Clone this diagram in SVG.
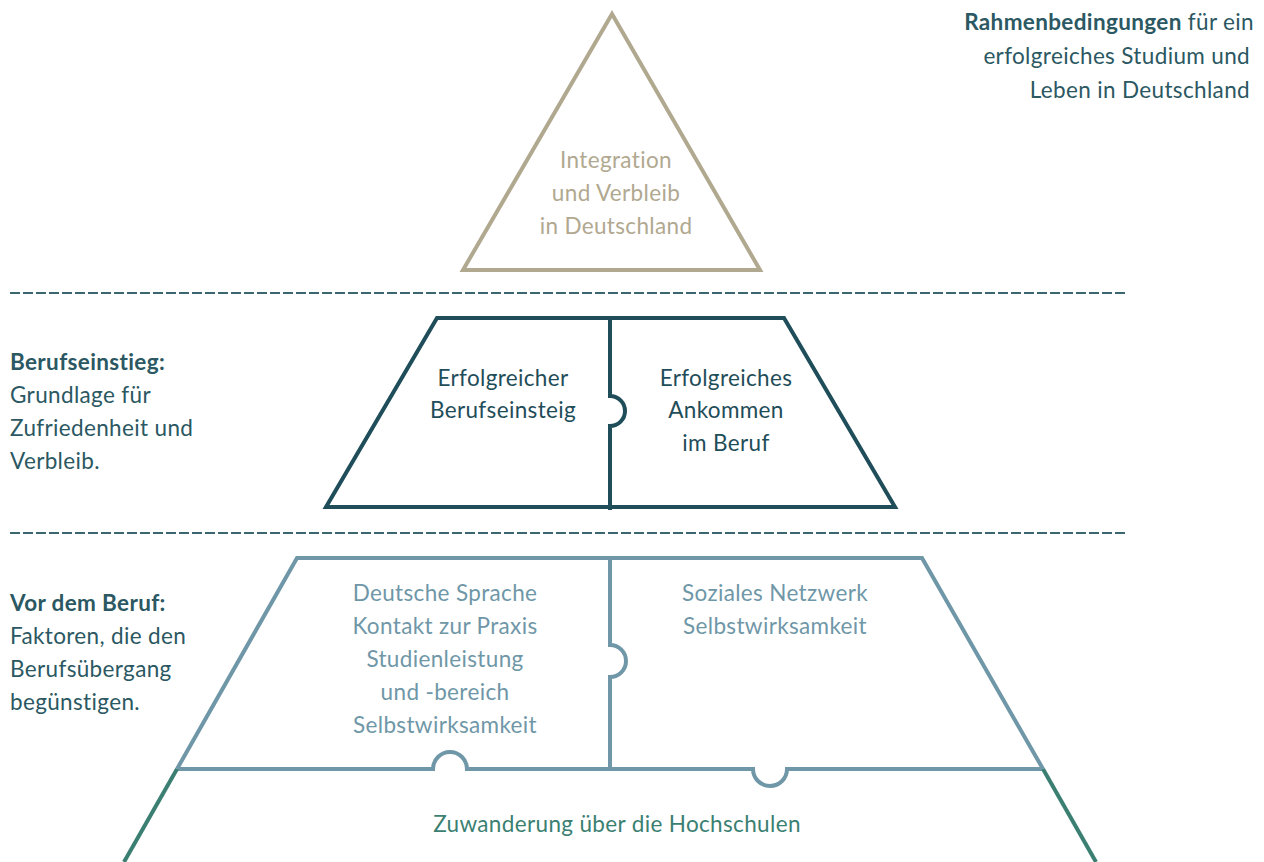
<svg xmlns="http://www.w3.org/2000/svg" width="1264" height="862" viewBox="0 0 1264 862">
  <style>
    text { font-family: Lato, "Open Sans", "Liberation Sans", sans-serif; font-size: 22.5px; letter-spacing: 0.35px; }
    .c { text-anchor: middle; }
    .r { text-anchor: end; }
    .tan { fill: #b1a890; }
    .dark { fill: #1f4d59; }
    .side { fill: #2b5862; }
    .light { fill: #6f97a7; }
    .green { fill: #3b7f72; }
    .b { font-weight: 700; }
    .sep { stroke: #3b6670; stroke-width: 2; stroke-dasharray: 10 3; fill: none; }
  </style>
  <rect width="1264" height="862" fill="#ffffff"/>

  <!-- section separators -->
  <g id="separators">
    <line class="sep" x1="10" y1="293" x2="1125" y2="293"/>
    <line class="sep" x1="10" y1="533" x2="1125" y2="533"/>
  </g>

  <!-- top: integration triangle -->
  <g id="integration">
    <polygon points="612,14 463,270 760,270" fill="none" stroke="#b1a890" stroke-width="4" stroke-linejoin="miter"/>
    <text class="c tan" x="616" y="168">Integration</text>
    <text class="c tan" x="616" y="201">und Verbleib</text>
    <text class="c tan" x="616" y="234">in Deutschland</text>
  </g>

  <!-- middle: career entry -->
  <g id="berufseinstieg">
    <polygon points="437,318 784,318 895,507 326,507" fill="none" stroke="#1f4d59" stroke-width="4"/>
    <path d="M610,318 V396 A15,15 0 0 1 610,426 V510" fill="none" stroke="#1f4d59" stroke-width="4"/>
    <text class="c dark" x="503" y="386">Erfolgreicher</text>
    <text class="c dark" x="503" y="418">Berufseinsteig</text>
    <text class="c dark" x="726" y="386">Erfolgreiches</text>
    <text class="c dark" x="726" y="418">Ankommen</text>
    <text class="c dark" x="726" y="451">im Beruf</text>
  </g>

  <!-- lower: factors before the job -->
  <g id="vor-dem-beruf">
    <path d="M177,769 L297,558 H922 L1043,769" fill="none" stroke="#6f97a7" stroke-width="4" stroke-linejoin="miter"/>
    <path d="M610,558 V645 A16,16 0 0 1 610,677 V769" fill="none" stroke="#6f97a7" stroke-width="4"/>
    <path d="M177,769 H433 A17,17 0 0 1 467,769 H753 A17,17 0 0 0 787,769 H1043" fill="none" stroke="#6f97a7" stroke-width="4"/>
    <text class="c light" x="445" y="601">Deutsche Sprache</text>
    <text class="c light" x="445" y="634">Kontakt zur Praxis</text>
    <text class="c light" x="445" y="667">Studienleistung</text>
    <text class="c light" x="445" y="700">und -bereich</text>
    <text class="c light" x="445" y="733">Selbstwirksamkeit</text>
    <text class="c light" x="775" y="601">Soziales Netzwerk</text>
    <text class="c light" x="775" y="634">Selbstwirksamkeit</text>
  </g>

  <!-- base: migration via universities -->
  <g id="zuwanderung">
    <line x1="177" y1="769" x2="124" y2="862" stroke="#3b7f72" stroke-width="4"/>
    <line x1="1043" y1="769" x2="1096" y2="862" stroke="#3b7f72" stroke-width="4"/>
    <text class="c green" x="617" y="832">Zuwanderung über die Hochschulen</text>
  </g>

  <!-- side labels -->
  <g id="label-rahmen">
    <text class="r side" x="1254" y="30"><tspan class="b">Rahmenbedingungen</tspan> für ein</text>
    <text class="r side" x="1250" y="64">erfolgreiches Studium und</text>
    <text class="r side" x="1250" y="98">Leben in Deutschland</text>
  </g>
  <g id="label-berufseinstieg">
    <text class="side b" x="10" y="370">Berufseinstieg:</text>
    <text class="side" x="10" y="403">Grundlage für</text>
    <text class="side" x="10" y="436">Zufriedenheit und</text>
    <text class="side" x="10" y="469">Verbleib.</text>
  </g>
  <g id="label-vor-dem-beruf">
    <text class="side b" x="10" y="611">Vor dem Beruf:</text>
    <text class="side" x="10" y="644">Faktoren, die den</text>
    <text class="side" x="10" y="677">Berufsübergang</text>
    <text class="side" x="10" y="710">begünstigen.</text>
  </g>
</svg>
